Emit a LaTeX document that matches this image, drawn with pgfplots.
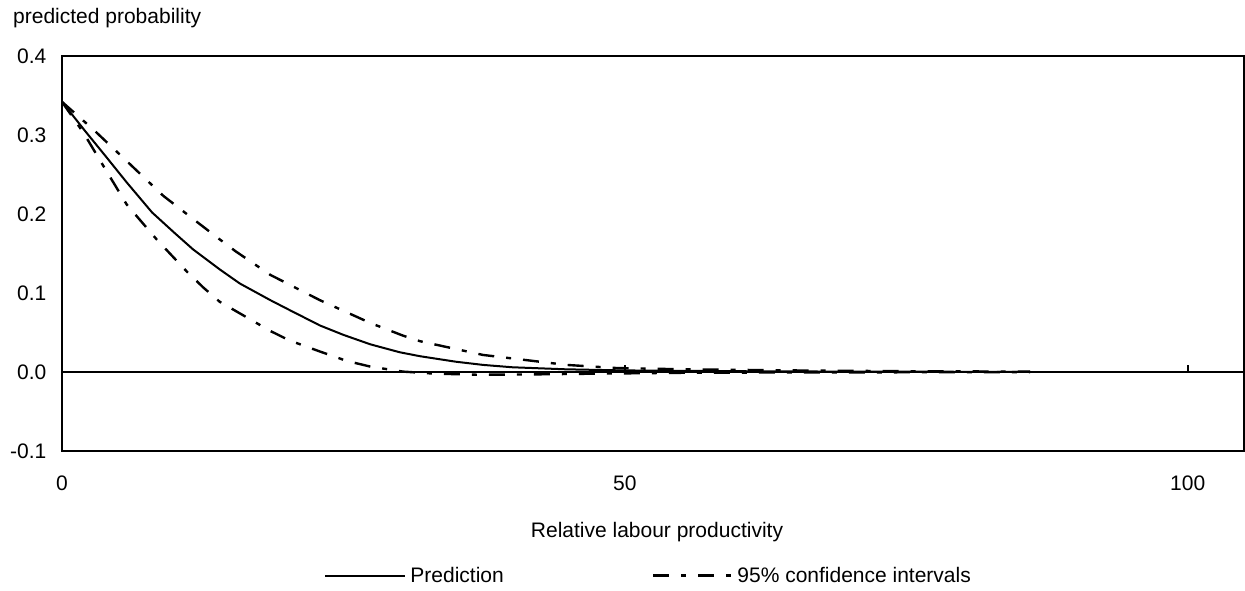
\documentclass[border=0pt]{standalone}
\usepackage{pgfplots}
\pgfplotsset{compat=1.18}
\usepackage{fontspec}
\setmainfont{Liberation Sans}

% predicted probability and its 95% bounds along relative labour productivity
\pgfplotstableread{
x     y
0     0.342
2     0.306
4     0.271
5.75  0.240
8     0.202
10    0.176
11.66 0.155
14    0.130
15.8  0.112
18.5  0.091
20    0.080
22.9  0.059
25    0.047
27.4  0.035
30    0.025
31.8  0.020
35    0.013
37.4  0.009
40    0.006
44.8  0.0034
50    0.002
60    0.001
70    0.0005
86    0.0002
}\predtab

\pgfplotstableread{
x     y
0     0.342
2.78  0.307
5.75  0.267
9.0   0.223
12.26 0.187
14    0.168
15.4  0.153
18.5  0.123
22.9  0.091
27.4  0.062
30.3  0.046
31.8  0.039
37.4  0.0216
44.8  0.009
49.3  0.0050
55    0.0035
65    0.002
75    0.001
86    0.0005
}\uppertab

\pgfplotstableread{
x     y
0     0.342
1.9   0.303
3.67  0.261
5.75  0.212
8.4   0.168
11.1  0.127
12.55 0.107
14    0.089
18.5  0.052
20.2  0.040
22.9  0.026
25.3  0.014
27.4  0.0068
30.3  0.0005
33    -0.002
37    -0.0035
42    -0.003
48    -0.002
55    -0.001
65    -0.0005
86    -0.0002
}\lowertab

\tikzset{ci/.style={line width=1.2pt, dash pattern=on 8pt off 6pt on 2.5pt off 6pt}}
\newcommand\chartfont{\fontsize{10.5}{12}\selectfont}

\begin{document}
\begin{tikzpicture}
\begin{axis}[
  at={(0,0)}, anchor=south west,
  scale only axis,
  width=591pt, height=197.5pt,
  xmin=0, xmax=105,
  ymin=-0.1, ymax=0.4,
  axis line style={line width=0.9pt},
  xtick={0,50,100}, xticklabels={0,50,100},
  ytick={-0.1,0,0.1,0.2,0.3,0.4},
  yticklabels={-0.1,0.0,0.1,0.2,0.3,0.4},
  major tick length=0pt,
  tick label style={font=\chartfont},
  yticklabel style={anchor=east, inner sep=0pt, xshift=-7.6pt},
  xticklabel style={anchor=north, inner sep=0pt, yshift=-12pt},
  clip=false,
]
\addplot[black, line width=1pt] table[x=x,y=y] {\predtab};
\addplot[black, ci] table[x=x,y=y] {\uppertab};
\addplot[black, ci] table[x=x,y=y] {\lowertab};
% horizontal zero line with its small tick marks
\draw[line width=1pt] (axis cs:0,0) -- (axis cs:105,0);
\draw[line width=0.9pt] (axis cs:50,0) -- ([yshift=3.5pt]axis cs:50,0);
\draw[line width=0.9pt] (axis cs:100,0) -- ([yshift=3.5pt]axis cs:100,0);
\end{axis}

\node[anchor=base west, inner sep=0pt, font=\chartfont] at (-24.6pt,213.5pt) {predicted probability};
\node[anchor=base, inner sep=0pt, font=\chartfont] at (297.5pt,-43pt) {Relative labour productivity};

% legend
\draw[line width=1pt] (131.5pt,-62.3pt) -- (171.5pt,-62.3pt);
\node[anchor=base west, inner sep=0pt, font=\chartfont] at (174pt,-65.8pt) {Prediction};
\draw[ci] (295.5pt,-62.3pt) -- (334.5pt,-62.3pt);
\node[anchor=base west, inner sep=0pt, font=\chartfont] at (337.5pt,-65.8pt) {95\% confidence intervals};

\path[use as bounding box] (-31pt,-69.5pt) rectangle (591.5pt,225.5pt);
\end{tikzpicture}
\end{document}
